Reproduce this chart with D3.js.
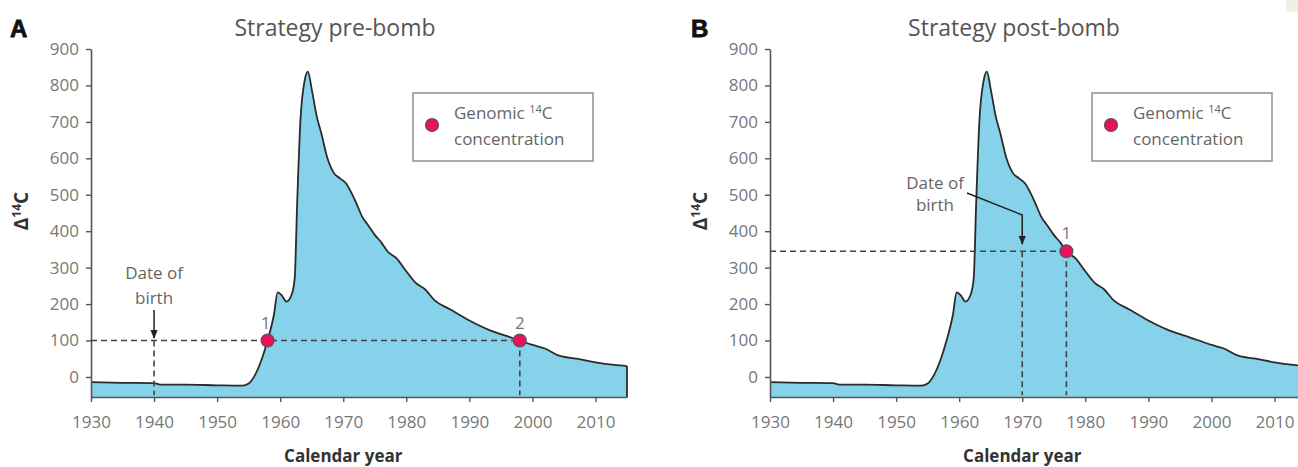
<!DOCTYPE html>
<html>
<head>
<meta charset="utf-8">
<script src="https://cdn.jsdelivr.net/npm/d3@7"></script>
<style>
  body { margin: 0; background: #fff; }
  svg { display: block; font-family: "Open Sans", sans-serif; }
</style>
</head>
<body>
<svg width="1298" height="467"></svg>
<script>
// atmospheric 14C curve
var years = [1930, 1935, 1940, 1941, 1945, 1950, 1954, 1955, 1956, 1957, 1958, 1959, 1959.6, 1960.2, 1961, 1961.8,
  1962.3, 1962.7, 1963.2, 1963.9, 1964.4, 1965, 1965.8, 1966.5, 1967.5, 1968.5, 1969.5, 1970.5, 1971.3, 1972,
  1973, 1974, 1975, 1976, 1977, 1978.5, 1980, 1981.5, 1983, 1984.5, 1987, 1990, 1993, 1996, 1998, 2000, 2002,
  2004, 2007, 2010, 2013, 2015];
var d14c = [-14, -16, -17, -21, -21, -23, -24, -18, 5, 45, 100, 170, 232, 225, 207, 225,
  270, 480, 700, 815, 838, 790, 715, 670, 600, 560, 545, 530, 505, 480,
  440, 415, 390, 370, 345, 325, 290, 258, 240, 210, 185, 155, 130, 112, 100, 88, 78,
  60, 50, 40, 33, 30];

var xTicks = [1930, 1940, 1950, 1960, 1970, 1980, 1990, 2000, 2010];
var yTicks = [0, 100, 200, 300, 400, 500, 600, 700, 800, 900];

var panels = [
  { letter: "A", title: "Strategy pre-bomb", left: 91, birth: 1940, level: 100,
    points: [[1958, 100, "1"], [1998, 100, "2"]] },
  { letter: "B", title: "Strategy post-bomb", left: 770, birth: 1970, level: 345,
    points: [[1977, 345, "1"]] }
];

var data = years.map(function(y, i) { return { year: y, v: d14c[i] }; });

var svg = d3.select("svg");

// small tinted corner patch from the source scan
svg.append("rect").attr("x", 1286).attr("y", 0).attr("width", 12).attr("height", 12).attr("fill", "#f0f0e6");

svg.append("defs").append("marker")
  .attr("id", "arrow").attr("viewBox", "0 0 10 10").attr("refX", 9).attr("refY", 5)
  .attr("markerWidth", 9).attr("markerHeight", 9).attr("markerUnits", "userSpaceOnUse")
  .attr("orient", "auto")
  .append("path").attr("d", "M0,1 L10,5 L0,9 Z").attr("fill", "#222");

panels.forEach(function(p, pi) {
  var x = d3.scaleLinear().domain([1930, 2015]).range([p.left, p.left + 536]);
  var y = d3.scaleLinear().domain([-55, 900]).range([397, 49]);
  var g = svg.append("g");

  var area = d3.area().curve(d3.curveMonotoneX)
    .x(function(d) { return x(d.year); }).y0(y(-55)).y1(function(d) { return y(d.v); });
  var line = d3.line().curve(d3.curveMonotoneX)
    .x(function(d) { return x(d.year); }).y(function(d) { return y(d.v); });

  g.append("path").datum(data).attr("d", area).attr("fill", "#86d2ea");
  g.append("path").datum(data).attr("d", line).attr("fill", "none").attr("stroke", "#2b2b2b").attr("stroke-width", 1.8);
  // right edge of the filled area
  g.append("line").attr("x1", x(2015)).attr("x2", x(2015)).attr("y1", y(30)).attr("y2", y(-55))
    .attr("stroke", "#2b2b2b").attr("stroke-width", 1.8);

  // axes
  var ya = g.append("g").attr("transform", "translate(" + p.left + ",0)")
    .call(d3.axisLeft(y).tickValues(yTicks).tickSize(5).tickSizeOuter(0).tickPadding(7));
  var xa = g.append("g").attr("transform", "translate(0," + y(-55) + ")")
    .call(d3.axisBottom(x).tickValues(xTicks).tickFormat(d3.format("d")).tickSize(5).tickSizeOuter(0).tickPadding(14));
  [ya, xa].forEach(function(a) {
    a.select(".domain").attr("stroke", "#555").attr("stroke-width", 1.6);
    a.selectAll(".tick line").attr("stroke", "#555").attr("stroke-width", 1.4);
    a.selectAll(".tick text").attr("fill", "#777").style("font-size", "17px").style("font-family", "Open Sans");
  });

  // dashed guides
  var dash = { stroke: "#444", "stroke-width": 1.6, "stroke-dasharray": "6,4" };
  var last = p.points[p.points.length - 1];
  function guide(x1, y1, x2, y2) {
    var l = g.append("line").attr("x1", x1).attr("y1", y1).attr("x2", x2).attr("y2", y2);
    for (var k in dash) l.attr(k, dash[k]);
  }
  guide(p.left, y(p.level), x(last[0]), y(p.level));
  guide(x(p.birth), y(p.level), x(p.birth), y(-50));
  p.points.forEach(function(pt) {
    if (pt[2] === "2" || pi === 1) guide(x(pt[0]), y(pt[1]), x(pt[0]), y(-50));
  });

  // birth annotation
  if (pi === 0) {
    g.append("text").attr("x", x(p.birth)).attr("y", 279).attr("text-anchor", "middle").text("Date of");
    g.append("text").attr("x", x(p.birth)).attr("y", 304).attr("text-anchor", "middle").text("birth");
    g.append("line").attr("x1", x(p.birth)).attr("x2", x(p.birth)).attr("y1", 310).attr("y2", 338)
      .attr("stroke", "#222").attr("stroke-width", 1.5).attr("marker-end", "url(#arrow)");
  } else {
    g.append("text").attr("x", 935).attr("y", 189).attr("text-anchor", "middle").text("Date of");
    g.append("text").attr("x", 935).attr("y", 211).attr("text-anchor", "middle").text("birth");
    g.append("path").attr("d", "M967,193 L" + x(p.birth) + ",215 L" + x(p.birth) + ",244")
      .attr("fill", "none").attr("stroke", "#222").attr("stroke-width", 1.5).attr("marker-end", "url(#arrow)");
  }
  g.selectAll("text").filter(function() { return !this.closest(".tick"); })
    .attr("fill", "#666").style("font-size", "17px");

  // sample points
  p.points.forEach(function(pt) {
    g.append("circle").attr("cx", x(pt[0])).attr("cy", y(pt[1])).attr("r", 6.5)
      .attr("fill", "#e8125c").attr("stroke", "#555").attr("stroke-width", 1.2);
    g.append("text").attr("x", x(pt[0]) - (pt[2] === "1" && pi === 0 ? 2 : 0)).attr("y", y(pt[1]) - 12)
      .attr("text-anchor", "middle").attr("fill", "#777").style("font-size", "17px").text(pt[2]);
  });

  // legend
  var lx = p.left + 322;
  svg.append("rect").attr("x", lx).attr("y", 93).attr("width", 180).attr("height", 68)
    .attr("fill", "#fff").attr("stroke", "#888").attr("stroke-width", 1.4);
  svg.append("circle").attr("cx", lx + 19).attr("cy", 125).attr("r", 6.5)
    .attr("fill", "#e8125c").attr("stroke", "#555").attr("stroke-width", 1.2);
  var t1 = svg.append("text").attr("x", lx + 41).attr("y", 119).attr("fill", "#666").style("font-size", "17px");
  t1.append("tspan").text("Genomic ");
  t1.append("tspan").attr("dy", -6).style("font-size", "11px").text("14");
  t1.append("tspan").attr("dy", 6).text("C");
  svg.append("text").attr("x", lx + 41).attr("y", 145).attr("fill", "#666").style("font-size", "17px").text("concentration");

  // titles and labels
  svg.append("text").attr("x", p.left + 244).attr("y", 36).attr("text-anchor", "middle")
    .attr("fill", "#555").style("font-size", "23px").text(p.title);
  svg.append("text").attr("x", p.left - 81 + pi * 2).attr("y", 37)
    .attr("fill", "#111").style("font-family", "Liberation Sans, Arial").style("font-weight", "bold")
    .style("font-size", "24px").attr("stroke", "#111").attr("stroke-width", 0.8).text(p.letter);
  svg.append("text").attr("x", x(1970)).attr("y", 462).attr("text-anchor", "middle")
    .attr("fill", "#333").style("font-weight", "bold").style("font-size", "17px").text("Calendar year");
  var yl = svg.append("text").attr("transform", "translate(" + (p.left - 63) + ",211) rotate(-90)")
    .attr("text-anchor", "middle").attr("fill", "#333").style("font-weight", "bold").style("font-size", "19px");
  yl.append("tspan").text("Δ");
  yl.append("tspan").attr("dy", -7).style("font-size", "12px").text("14");
  yl.append("tspan").attr("dy", 7).text("C");
});
</script>
</body>
</html>
